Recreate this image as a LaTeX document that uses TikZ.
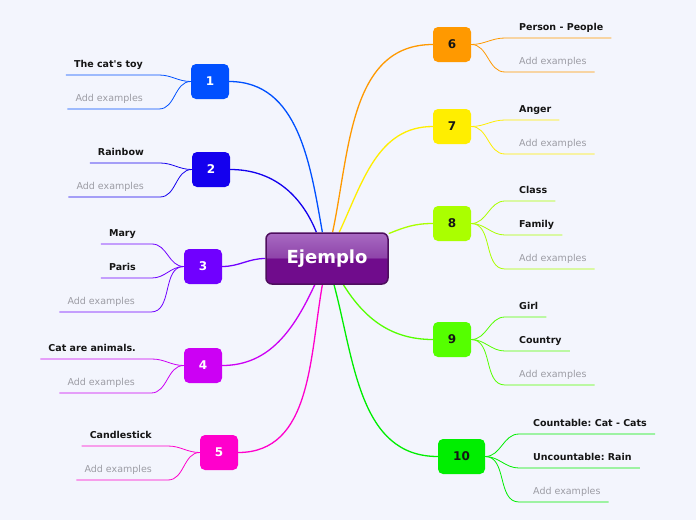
\documentclass[tikz,border=0pt]{standalone}
\usepackage{fontspec}
\setmainfont{DejaVu Sans}
\usetikzlibrary{backgrounds, positioning}
\frenchspacing

\definecolor{paper}{HTML}{F3F5FD}
\definecolor{ink}{HTML}{151515}
\definecolor{hintgray}{HTML}{9C9CA4}
\definecolor{ejtop}{HTML}{A86AC2}
\definecolor{ejmid}{HTML}{8E44AA}
\definecolor{ejbot}{HTML}{700C8C}
\definecolor{ejedge}{HTML}{4E0E5E}
\definecolor{c1}{HTML}{0050FF}
\definecolor{c2}{HTML}{1400EE}
\definecolor{c3}{HTML}{7000FF}
\definecolor{c4}{HTML}{CC00F4}
\definecolor{c5}{HTML}{FF00CC}
\definecolor{c6}{HTML}{FF9900}
\definecolor{c7}{HTML}{FFEE00}
\definecolor{c8}{HTML}{AAFF00}
\definecolor{c9}{HTML}{55FF00}
\definecolor{c10}{HTML}{00EE00}

% glossy fill of the centre topic
\pgfdeclareverticalshading{ejgloss}{100bp}{color(0bp)=(ejbot); color(50bp)=(ejbot); color(51bp)=(ejmid); color(75bp)=(ejtop); color(100bp)=(ejtop)}

\begin{document}
\begin{tikzpicture}[x=1pt, y=1pt,
  topic/.style={rectangle, rounded corners=6pt, minimum width=122pt, minimum height=51pt, draw=ejedge, line width=1.5pt, shading=ejgloss, text=white, font=\bfseries\fontsize{18}{22}\selectfont},
  num/.style={rectangle, rounded corners=5pt, minimum width=38pt, minimum height=35pt, inner sep=0pt, font=\bfseries\fontsize{12}{14}\selectfont},
  leaf/.style={inner xsep=8pt, inner ysep=5.5pt, text height=7pt, text depth=2pt, text=ink, font=\bfseries\fontsize{9.5}{11}\selectfont},
  hint/.style={leaf, text=hintgray, font=\fontsize{9.5}{11}\selectfont},
  branch/.style={line width=1.3pt},
  twig/.style={line width=0.8pt}]
  \useasboundingbox (0,0) rectangle (696,-520);

  % centre and numbered topics
  \node[topic] (ej) at (327,-258.5) {Ejemplo};
  \node[num, fill=c1, text=white] (n1)  at (210,-81.5)   {1};
  \node[num, fill=c2, text=white] (n2)  at (211,-169.5)  {2};
  \node[num, fill=c3, text=white] (n3)  at (203,-266.5)  {3};
  \node[num, fill=c4, text=white] (n4)  at (203,-365.5)  {4};
  \node[num, fill=c5, text=white] (n5)  at (219,-452.5)  {5};
  \node[num, fill=c6, text=ink]   (n6)  at (452,-44.5)   {6};
  \node[num, fill=c7, text=ink]   (n7)  at (452,-126.5)  {7};
  \node[num, fill=c8, text=ink]   (n8)  at (452,-223.5)  {8};
  \node[num, fill=c9, text=ink]   (n9)  at (452,-339.5)  {9};
  \node[num, fill=c10, text=ink, minimum width=47pt] (n10) at (461.5,-456.5) {10};

  % left leaves
  \node[leaf, anchor=south east] (l1a) at (151,-75)  {The cat\textquotesingle s toy};
  \node[hint, anchor=south east] (l1b) at (151,-109) {Add examples};
  \node[leaf, anchor=south east] (l2a) at (152,-163) {Rainbow};
  \node[hint, anchor=south east] (l2b) at (152,-197) {Add examples};
  \node[leaf, anchor=south east] (l3a) at (144,-244) {Mary};
  \node[leaf, anchor=south east] (l3b) at (144,-278) {Paris};
  \node[hint, anchor=south east] (l3c) at (143,-312) {Add examples};
  \node[leaf, anchor=south east] (l4a) at (144,-359) {Cat are animals.};
  \node[hint, anchor=south east] (l4b) at (143,-393) {Add examples};
  \node[leaf, anchor=south east] (l5a) at (160,-446) {Candlestick};
  \node[hint, anchor=south east] (l5b) at (160,-480) {Add examples};

  % right leaves
  \node[leaf, anchor=south west] (l6a)  at (511,-38)  {Person - People};
  \node[hint, anchor=south west] (l6b)  at (511,-72)  {Add examples};
  \node[leaf, anchor=south west] (l7a)  at (511,-120) {Anger};
  \node[hint, anchor=south west] (l7b)  at (511,-154) {Add examples};
  \node[leaf, anchor=south west] (l8a)  at (511,-201) {Class};
  \node[leaf, anchor=south west] (l8b)  at (511,-235) {Family};
  \node[hint, anchor=south west] (l8c)  at (511,-269) {Add examples};
  \node[leaf, anchor=south west] (l9a)  at (511,-317) {Girl};
  \node[leaf, anchor=south west] (l9b)  at (511,-351) {Country};
  \node[hint, anchor=south west] (l9c)  at (511,-385) {Add examples};
  \node[leaf, anchor=south west] (l10a) at (525,-434) {Countable: Cat - Cats};
  \node[leaf, anchor=south west] (l10b) at (525,-468) {Uncountable: Rain};
  \node[hint, anchor=south west] (l10c) at (525,-502) {Add examples};

  \begin{scope}[on background layer]
    \fill[paper] (0,0) rectangle (696,-520);
    % branches from the centre
    \draw[branch, c1]  (ej) to[out=100, in=0]   (n1);
    \draw[branch, c2]  (ej) to[out=112, in=0]   (n2);
    \draw[branch, c3]  (ej) to[out=180, in=0]   (n3);
    \draw[branch, c4]  (ej) to[out=-115, in=0]  (n4);
    \draw[branch, c5]  (ej) to[out=-100, in=0]  (n5);
    \draw[branch, c6]  (ej) to[out=78, in=180]  (n6);
    \draw[branch, c7]  (ej) to[out=65, in=180]  (n7);
    \draw[branch, c8]  (ej) to[out=22, in=180]  (n8);
    \draw[branch, c9]  (ej) to[out=-58, in=180] (n9);
    \draw[branch, c10] (ej) to[out=-75, in=180] (n10);

    % twigs on the left
    \draw[twig, c1] (n1) to[out=180, in=0] ([xshift=8pt]l1a.south east) -- (l1a.south west);
    \draw[twig, c1] (n1) to[out=180, in=0] ([xshift=8pt]l1b.south east) -- (l1b.south west);
    \draw[twig, c2] (n2) to[out=180, in=0] ([xshift=8pt]l2a.south east) -- (l2a.south west);
    \draw[twig, c2] (n2) to[out=180, in=0] ([xshift=8pt]l2b.south east) -- (l2b.south west);
    \draw[twig, c3] (n3) to[out=180, in=0] ([xshift=8pt]l3a.south east) -- (l3a.south west);
    \draw[twig, c3] (n3) to[out=180, in=0] ([xshift=8pt]l3b.south east) -- (l3b.south west);
    \draw[twig, c3] (n3) to[out=180, in=0] ([xshift=8pt]l3c.south east) -- (l3c.south west);
    \draw[twig, c4] (n4) to[out=180, in=0] ([xshift=8pt]l4a.south east) -- (l4a.south west);
    \draw[twig, c4] (n4) to[out=180, in=0] ([xshift=8pt]l4b.south east) -- (l4b.south west);
    \draw[twig, c5] (n5) to[out=180, in=0] ([xshift=8pt]l5a.south east) -- (l5a.south west);
    \draw[twig, c5] (n5) to[out=180, in=0] ([xshift=8pt]l5b.south east) -- (l5b.south west);

    % twigs on the right
    \draw[twig, c6]  (n6)  to[out=0, in=180] ([xshift=-6pt]l6a.south west)  -- (l6a.south east);
    \draw[twig, c6]  (n6)  to[out=0, in=180] ([xshift=-6pt]l6b.south west)  -- (l6b.south east);
    \draw[twig, c7]  (n7)  to[out=0, in=180] ([xshift=-6pt]l7a.south west)  -- (l7a.south east);
    \draw[twig, c7]  (n7)  to[out=0, in=180] ([xshift=-6pt]l7b.south west)  -- (l7b.south east);
    \draw[twig, c8]  (n8)  to[out=0, in=180] ([xshift=-6pt]l8a.south west)  -- (l8a.south east);
    \draw[twig, c8]  (n8)  to[out=0, in=180] ([xshift=-6pt]l8b.south west)  -- (l8b.south east);
    \draw[twig, c8]  (n8)  to[out=0, in=180] ([xshift=-6pt]l8c.south west)  -- (l8c.south east);
    \draw[twig, c9]  (n9)  to[out=0, in=180] ([xshift=-6pt]l9a.south west)  -- (l9a.south east);
    \draw[twig, c9]  (n9)  to[out=0, in=180] ([xshift=-6pt]l9b.south west)  -- (l9b.south east);
    \draw[twig, c9]  (n9)  to[out=0, in=180] ([xshift=-6pt]l9c.south west)  -- (l9c.south east);
    \draw[twig, c10] (n10) to[out=0, in=180] ([xshift=-6pt]l10a.south west) -- (l10a.south east);
    \draw[twig, c10] (n10) to[out=0, in=180] ([xshift=-6pt]l10b.south west) -- (l10b.south east);
    \draw[twig, c10] (n10) to[out=0, in=180] ([xshift=-6pt]l10c.south west) -- (l10c.south east);
  \end{scope}
\end{tikzpicture}
\end{document}
